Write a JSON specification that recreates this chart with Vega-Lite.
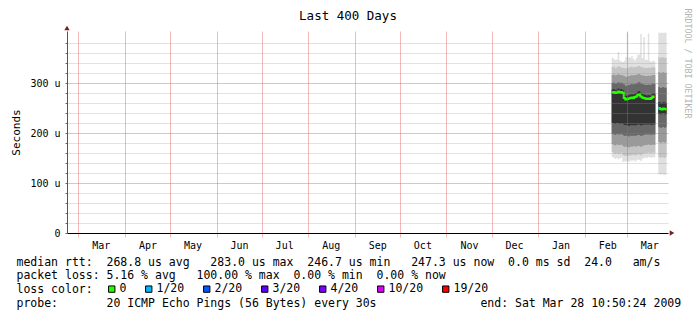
{
  "$schema": "https://vega.github.io/schema/vega-lite/v6.json",
  "autosize": {"type": "none"},
  "width": 601,
  "height": 202,
  "padding": {"left": 67, "top": 31, "right": 29, "bottom": 88},
  "background": "white",
  "config": {"font": "DejaVu Sans Mono", "view": {"stroke": null}},
  "title": {"text": "Last 400 Days", "anchor": "middle", "frame": "group", "dx": -19.5, "offset": -24, "baseline": "alphabetic", "fontSize": 12.5, "fontWeight": "normal", "color": "black", "font": "DejaVu Sans Mono"},
  "datasets": {
    "smoke": [
      {"t": "2009-02-19T00:00:00Z", "seg": "a", "b0": 152, "b1": 162, "b2": 178, "b3": 198, "b4": 220, "med": 281, "b5": 287, "b6": 300, "b7": 316, "b8": 332, "b9": 351},
      {"t": "2009-02-20T00:00:00Z", "seg": "a", "b0": 150, "b1": 160, "b2": 176, "b3": 197, "b4": 219, "med": 282, "b5": 288, "b6": 301, "b7": 317, "b8": 333, "b9": 348},
      {"t": "2009-02-21T00:00:00Z", "seg": "a", "b0": 148, "b1": 158, "b2": 175, "b3": 196, "b4": 218, "med": 280, "b5": 286, "b6": 299, "b7": 315, "b8": 330, "b9": 346},
      {"t": "2009-02-22T00:00:00Z", "seg": "a", "b0": 150, "b1": 160, "b2": 177, "b3": 198, "b4": 220, "med": 281, "b5": 287, "b6": 300, "b7": 316, "b8": 331, "b9": 347},
      {"t": "2009-02-23T00:00:00Z", "seg": "a", "b0": 147, "b1": 158, "b2": 176, "b3": 197, "b4": 219, "med": 283, "b5": 289, "b6": 302, "b7": 318, "b8": 334, "b9": 362},
      {"t": "2009-02-24T00:00:00Z", "seg": "a", "b0": 149, "b1": 159, "b2": 176, "b3": 197, "b4": 218, "med": 281, "b5": 287, "b6": 300, "b7": 316, "b8": 332, "b9": 345},
      {"t": "2009-02-25T00:00:00Z", "seg": "a", "b0": 151, "b1": 161, "b2": 177, "b3": 198, "b4": 219, "med": 282, "b5": 288, "b6": 301, "b7": 316, "b8": 331, "b9": 343},
      {"t": "2009-02-26T00:00:00Z", "seg": "a", "b0": 142, "b1": 156, "b2": 174, "b3": 196, "b4": 218, "med": 280, "b5": 286, "b6": 299, "b7": 315, "b8": 330, "b9": 342},
      {"t": "2009-02-27T00:00:00Z", "seg": "a", "b0": 143, "b1": 154, "b2": 172, "b3": 194, "b4": 216, "med": 270, "b5": 277, "b6": 297, "b7": 314, "b8": 330, "b9": 344},
      {"t": "2009-02-28T00:00:00Z", "seg": "a", "b0": 143, "b1": 155, "b2": 173, "b3": 195, "b4": 216, "med": 267, "b5": 274, "b6": 294, "b7": 312, "b8": 329, "b9": 352},
      {"t": "2009-03-01T00:00:00Z", "seg": "a", "b0": 144, "b1": 155, "b2": 172, "b3": 194, "b4": 215, "med": 268, "b5": 275, "b6": 295, "b7": 313, "b8": 330, "b9": 401},
      {"t": "2009-03-02T00:00:00Z", "seg": "a", "b0": 142, "b1": 154, "b2": 171, "b3": 193, "b4": 214, "med": 269, "b5": 276, "b6": 296, "b7": 314, "b8": 331, "b9": 352},
      {"t": "2009-03-03T00:00:00Z", "seg": "a", "b0": 145, "b1": 156, "b2": 173, "b3": 195, "b4": 216, "med": 270, "b5": 277, "b6": 297, "b7": 315, "b8": 332, "b9": 350},
      {"t": "2009-03-04T00:00:00Z", "seg": "a", "b0": 144, "b1": 155, "b2": 172, "b3": 194, "b4": 215, "med": 271, "b5": 278, "b6": 298, "b7": 316, "b8": 333, "b9": 354},
      {"t": "2009-03-05T00:00:00Z", "seg": "a", "b0": 146, "b1": 157, "b2": 174, "b3": 195, "b4": 216, "med": 270, "b5": 277, "b6": 297, "b7": 315, "b8": 331, "b9": 348},
      {"t": "2009-03-06T00:00:00Z", "seg": "a", "b0": 143, "b1": 155, "b2": 173, "b3": 194, "b4": 215, "med": 272, "b5": 279, "b6": 298, "b7": 316, "b8": 332, "b9": 345},
      {"t": "2009-03-07T00:00:00Z", "seg": "a", "b0": 145, "b1": 156, "b2": 173, "b3": 195, "b4": 216, "med": 273, "b5": 280, "b6": 299, "b7": 316, "b8": 332, "b9": 350},
      {"t": "2009-03-08T00:00:00Z", "seg": "a", "b0": 147, "b1": 157, "b2": 174, "b3": 196, "b4": 217, "med": 276, "b5": 283, "b6": 301, "b7": 318, "b8": 334, "b9": 356},
      {"t": "2009-03-09T00:00:00Z", "seg": "a", "b0": 146, "b1": 157, "b2": 174, "b3": 196, "b4": 217, "med": 277, "b5": 284, "b6": 302, "b7": 318, "b8": 334, "b9": 357},
      {"t": "2009-03-10T00:00:00Z", "seg": "a", "b0": 144, "b1": 155, "b2": 172, "b3": 194, "b4": 215, "med": 273, "b5": 280, "b6": 299, "b7": 316, "b8": 332, "b9": 398},
      {"t": "2009-03-11T00:00:00Z", "seg": "a", "b0": 148, "b1": 158, "b2": 174, "b3": 195, "b4": 216, "med": 271, "b5": 278, "b6": 298, "b7": 315, "b8": 331, "b9": 350},
      {"t": "2009-03-12T00:00:00Z", "seg": "a", "b0": 150, "b1": 159, "b2": 175, "b3": 196, "b4": 217, "med": 270, "b5": 277, "b6": 297, "b7": 315, "b8": 331, "b9": 392},
      {"t": "2009-03-13T00:00:00Z", "seg": "a", "b0": 151, "b1": 160, "b2": 176, "b3": 197, "b4": 217, "med": 269, "b5": 276, "b6": 296, "b7": 314, "b8": 330, "b9": 347},
      {"t": "2009-03-14T00:00:00Z", "seg": "a", "b0": 150, "b1": 160, "b2": 176, "b3": 197, "b4": 217, "med": 268, "b5": 275, "b6": 296, "b7": 314, "b8": 330, "b9": 346},
      {"t": "2009-03-15T00:00:00Z", "seg": "a", "b0": 152, "b1": 161, "b2": 177, "b3": 197, "b4": 217, "med": 269, "b5": 276, "b6": 297, "b7": 315, "b8": 331, "b9": 399},
      {"t": "2009-03-16T00:00:00Z", "seg": "a", "b0": 151, "b1": 160, "b2": 176, "b3": 197, "b4": 217, "med": 268, "b5": 275, "b6": 296, "b7": 314, "b8": 330, "b9": 344},
      {"t": "2009-03-17T00:00:00Z", "seg": "a", "b0": 150, "b1": 160, "b2": 176, "b3": 196, "b4": 216, "med": 270, "b5": 277, "b6": 297, "b7": 315, "b8": 331, "b9": 342},
      {"t": "2009-03-18T00:00:00Z", "seg": "a", "b0": 152, "b1": 161, "b2": 177, "b3": 197, "b4": 217, "med": 273, "b5": 280, "b6": 299, "b7": 316, "b8": 332, "b9": 345},
      {"t": "2009-03-19T00:00:00Z", "seg": "a", "b0": 151, "b1": 160, "b2": 176, "b3": 197, "b4": 217, "med": 272, "b5": 279, "b6": 298, "b7": 316, "b8": 331, "b9": 343},
      {"t": "2009-03-20T00:00:00Z", "seg": "a", "b0": 151, "b1": 160, "b2": 176, "b3": 197, "b4": 217, "med": 272, "b5": 279, "b6": 298, "b7": 316, "b8": 331, "b9": 343},
      {"t": "2009-03-22T00:00:00Z", "seg": "b", "b0": 118, "b1": 152, "b2": 182, "b3": 212, "b4": 238, "med": 250, "b5": 262, "b6": 292, "b7": 322, "b8": 352, "b9": 401},
      {"t": "2009-03-23T00:00:00Z", "seg": "b", "b0": 116, "b1": 150, "b2": 180, "b3": 210, "b4": 237, "med": 248, "b5": 261, "b6": 290, "b7": 320, "b8": 350, "b9": 400},
      {"t": "2009-03-24T00:00:00Z", "seg": "b", "b0": 118, "b1": 152, "b2": 181, "b3": 211, "b4": 238, "med": 247, "b5": 260, "b6": 291, "b7": 321, "b8": 352, "b9": 401},
      {"t": "2009-03-25T00:00:00Z", "seg": "b", "b0": 117, "b1": 151, "b2": 182, "b3": 212, "b4": 239, "med": 249, "b5": 262, "b6": 292, "b7": 322, "b8": 351, "b9": 400},
      {"t": "2009-03-26T00:00:00Z", "seg": "b", "b0": 116, "b1": 150, "b2": 180, "b3": 210, "b4": 237, "med": 248, "b5": 261, "b6": 290, "b7": 320, "b8": 350, "b9": 401},
      {"t": "2009-03-27T00:00:00Z", "seg": "b", "b0": 118, "b1": 152, "b2": 182, "b3": 212, "b4": 238, "med": 247, "b5": 260, "b6": 291, "b7": 321, "b8": 351, "b9": 400},
      {"t": "2009-03-27T12:00:00Z", "seg": "b", "b0": 118, "b1": 152, "b2": 182, "b3": 212, "b4": 238, "med": 247, "b5": 260, "b6": 291, "b7": 321, "b8": 351, "b9": 400}
    ],
    "loss": [
      {"t": "2009-03-19T12:00:00Z", "t2": "2009-03-20T00:00:00Z", "lo": 270, "hi": 276, "loss": "19/20"},
      {"t": "2009-03-22T00:00:00Z", "t2": "2009-03-22T16:00:00Z", "lo": 247, "hi": 253, "loss": "1/20"}
    ]
  },
  "encoding": {
    "x": {
      "field": "t", "type": "temporal",
      "scale": {"type": "utc", "domain": [{"year": 2008, "month": 2, "date": 22, "hours": 10, "minutes": 50, "seconds": 24, "utc": true}, {"year": 2009, "month": 3, "date": 28, "hours": 10, "minutes": 50, "seconds": 24, "utc": true}]},
      "axis": {
        "values": [
          {"year": 2008, "month": 3, "date": 1, "utc": true}, {"year": 2008, "month": 4, "date": 1, "utc": true},
          {"year": 2008, "month": 5, "date": 1, "utc": true}, {"year": 2008, "month": 6, "date": 1, "utc": true},
          {"year": 2008, "month": 7, "date": 1, "utc": true}, {"year": 2008, "month": 8, "date": 1, "utc": true},
          {"year": 2008, "month": 9, "date": 1, "utc": true}, {"year": 2008, "month": 10, "date": 1, "utc": true},
          {"year": 2008, "month": 11, "date": 1, "utc": true}, {"year": 2008, "month": 12, "date": 1, "utc": true},
          {"year": 2009, "month": 1, "date": 1, "utc": true}, {"year": 2009, "month": 2, "date": 1, "utc": true},
          {"year": 2009, "month": 3, "date": 1, "utc": true}
        ],
        "labelExpr": "utcFormat(datum.value, '%b')",
        "labelOffset": 22.5, "labelFontSize": 10, "labelColor": "black", "labelPadding": 3,
        "labelOverlap": false, "labelBound": false, "labelFlush": false,
        "grid": true, "gridColor": "rgba(230,80,80,0.4)", "gridWidth": 1,
        "ticks": true, "tickColor": "rgba(230,80,80,0.4)", "tickSize": 4,
        "domainColor": "black", "domainWidth": 1,
        "title": [
          "median rtt:\u00a0\u00a0268.8 us avg\u00a0\u00a0\u00a0283.0 us max\u00a0\u00a0246.7 us min\u00a0\u00a0\u00a0247.3 us now\u00a0\u00a00.0 ms sd\u00a0\u00a024.0\u00a0\u00a0\u00a0am/s",
          "packet loss: 5.16 % avg\u00a0\u00a0\u00a0100.00 % max\u00a0\u00a00.00 % min\u00a0\u00a00.00 % now",
          "loss color:",
          "probe:\u00a0\u00a0\u00a0\u00a0\u00a0\u00a0\u00a020 ICMP Echo Pings (56 Bytes) every 30s\u00a0\u00a0\u00a0\u00a0\u00a0\u00a0\u00a0\u00a0\u00a0\u00a0\u00a0\u00a0\u00a0\u00a0\u00a0end: Sat Mar 28 10:50:24 2009"
        ],
        "titleFont": "DejaVu Sans Mono", "titleFontSize": 11.5, "titleFontWeight": "normal", "titleColor": "black",
        "titleAnchor": "start", "titleAlign": "left", "titleBaseline": "alphabetic",
        "titleX": -51, "titleY": 32, "titleLineHeight": 13.8,
        "zindex": 1
      }
    }
  },
  "resolve": {"scale": {"y": "shared"}, "axis": {"y": "independent"}},
  "layer": [
    {
      "data": {"name": "smoke"},
      "mark": {"type": "area", "interpolate": "step-after", "color": "#e0e0e0", "clip": true},
      "encoding": {
        "detail": {"field": "seg"},
        "y": {
          "field": "b0", "type": "quantitative",
          "scale": {"domain": [0, 404], "nice": false, "zero": true},
          "axis": {
            "orient": "left",
            "values": [0, 20, 40, 60, 80, 100, 120, 140, 160, 180, 200, 220, 240, 260, 280, 300, 320, 340, 360, 380],
            "labelExpr": "datum.value % 100 === 0 ? (datum.value === 0 ? '0' : datum.value + ' u') : ''",
            "labelFontSize": 10, "labelColor": "black", "labelPadding": 5,
            "grid": true,
            "gridColor": {"condition": {"test": "datum.value % 100 === 0", "value": "rgba(230,80,80,0.4)"}, "value": "rgba(150,150,150,0.28)"},
            "tickColor": "#666", "tickSize": 2,
            "domainColor": "#555",
            "title": "Seconds", "titleFontSize": 11, "titleFontWeight": "normal", "titleColor": "black",
            "titleAngle": 270, "titleAlign": "center", "titleBaseline": "middle", "titleX": -51, "titleY": 101,
            "zindex": 1
          }
        },
        "y2": {"field": "b9"}
      }
    },
    {
      "data": {"name": "smoke"},
      "mark": {"type": "area", "interpolate": "step-after", "color": "#c4c4c4", "clip": true},
      "encoding": {
        "detail": {"field": "seg"},
        "y": {
          "field": "b1", "type": "quantitative",
          "axis": {
            "orient": "right", "domain": false, "ticks": false, "labels": false, "grid": false,
            "title": "RRDTOOL / TOBI OETIKER", "titleAngle": 90, "titleFontSize": 8.3, "titleFontWeight": "normal",
            "titleColor": "#b4b4b4", "titleAlign": "left", "titleBaseline": "middle", "titleX": 18, "titleY": -23
          }
        },
        "y2": {"field": "b8"}
      }
    },
    {
      "data": {"name": "smoke"},
      "mark": {"type": "area", "interpolate": "step-after", "color": "#9a9a9a", "clip": true},
      "encoding": {
        "detail": {"field": "seg"},
        "y": {"field": "b2", "type": "quantitative", "axis": null},
        "y2": {"field": "b7"}
      }
    },
    {
      "data": {"name": "smoke"},
      "mark": {"type": "area", "interpolate": "step-after", "color": "#686868", "clip": true},
      "encoding": {
        "detail": {"field": "seg"},
        "y": {"field": "b3", "type": "quantitative", "axis": null},
        "y2": {"field": "b6"}
      }
    },
    {
      "data": {"name": "smoke"},
      "mark": {"type": "area", "interpolate": "step-after", "color": "#333333", "clip": true},
      "encoding": {
        "detail": {"field": "seg"},
        "y": {"field": "b4", "type": "quantitative", "axis": null},
        "y2": {"field": "b5"}
      }
    },
    {
      "data": {"name": "smoke"},
      "mark": {"type": "line", "interpolate": "step-after", "color": "#26ff00", "strokeWidth": 2, "clip": true},
      "encoding": {
        "detail": {"field": "seg"},
        "y": {"field": "med", "type": "quantitative", "axis": null}
      }
    },
    {
      "data": {"name": "loss"},
      "mark": {"type": "rect"},
      "encoding": {
        "x2": {"field": "t2"},
        "y": {"field": "lo", "type": "quantitative", "axis": null},
        "y2": {"field": "hi"},
        "color": {
          "field": "loss", "type": "nominal",
          "scale": {"domain": ["0", "1/20", "2/20", "3/20", "4/20", "10/20", "19/20"], "range": ["#26ff00", "#00b8ff", "#0059ff", "#5e00ff", "#7e00ff", "#dd00ff", "#ff0000"]},
          "legend": {
            "orient": "none", "legendX": 39, "legendY": 252, "direction": "horizontal",
            "title": null,
            "symbolType": "square", "symbolSize": 40, "symbolStrokeColor": "black", "symbolStrokeWidth": 1, "symbolOpacity": 1,
            "labelFont": "DejaVu Sans Mono", "labelFontSize": 11.5, "labelColor": "black", "labelOffset": 2,
            "columnPadding": 16, "padding": 0, "labelLimit": 0
          }
        }
      }
    },
    {
      "data": {"values": [{"t": "2008-02-22T10:50:24Z", "v": 404}]},
      "mark": {"type": "point", "shape": "triangle-up", "filled": true, "color": "#7a1f1f", "size": 28, "opacity": 1, "yOffset": -3, "clip": false},
      "encoding": {
        "y": {"field": "v", "type": "quantitative", "axis": null}
      }
    },
    {
      "data": {"values": [{"t": "2009-03-28T10:50:24Z", "v": 0}]},
      "mark": {"type": "point", "shape": "triangle-right", "filled": true, "color": "#7a1f1f", "size": 28, "opacity": 1, "xOffset": 4, "clip": false},
      "encoding": {
        "y": {"field": "v", "type": "quantitative", "axis": null}
      }
    }
  ]
}
